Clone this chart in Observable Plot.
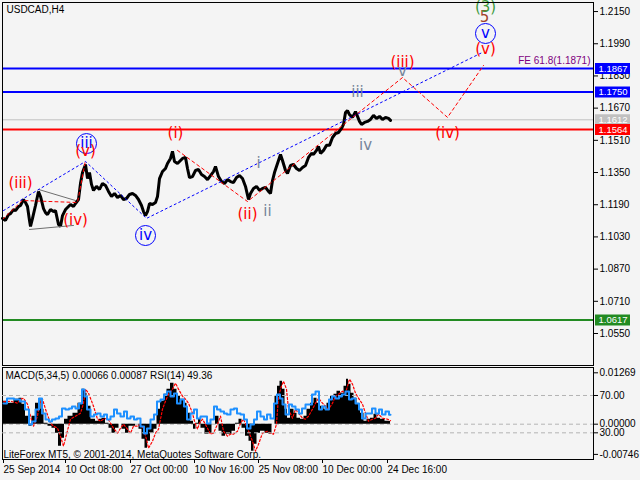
<!DOCTYPE html>
<html><head><meta charset="utf-8">
<script src="https://cdn.jsdelivr.net/npm/d3@7"></script>
<script src="https://cdn.jsdelivr.net/npm/@observablehq/plot@0.6"></script>
<style>
html,body{margin:0;padding:0;background:#f4f4f4;}
#wrap{position:relative;width:640px;height:480px;overflow:hidden;background:#f4f4f4;}
</style></head><body><div id="wrap"></div>
<script>
// ---------- DATA ----------
const symbolTitle = "USDCAD,H4";
const priceTicks = [1.2150,1.1990,1.1830,1.1670,1.1510,1.1350,1.1190,1.1030,1.0870,1.0710,1.0550];
const levelValues = [1.1867, 1.1750, 1.1564, 1.0617];
const levelColors = ["#0000ff", "#0000ff", "#ff0000", "#228b22"];
const currentPrice = 1.1612;
const feLabel = "FE 61.8(1.1871)";

const timeTickBars = [3, 65, 130, 194, 258, 322, 387];
const timeTickLabels = ["25 Sep 2014","10 Oct 08:00","27 Oct 00:00","10 Nov 16:00","25 Nov 08:00","10 Dec 00:00","24 Dec 16:00"];

const priceBar = [2,5,8,10,13,15,18,20,23,25,27,29,30,32,35,38,40,43,45,47,50,53,55,58,60,62,65,68,70,73,75,78,80,82,85,87,89,91,93,96,99,102,105,108,111,114,117,120,123,126,129,132,135,138,141,143,145,147,149,152,155,157,159,162,165,167,170,172,174,177,180,182,185,187,189,192,195,198,201,204,207,210,213,215,218,221,224,227,230,233,236,239,242,245,248,250,253,256,259,262,265,268,270,272,274,277,280,282,285,287,290,293,296,299,302,305,308,311,313,316,318,320,323,326,329,332,335,338,341,343,345,347,349,352,355,357,359,361,364,367,370,373,376,379,382,385,388,390];
const priceClose = [1.1122,1.1112,1.1141,1.1146,1.1166,1.1161,1.1181,1.1186,1.1216,1.1201,1.1181,1.1112,1.1082,1.1122,1.1186,1.1256,1.1231,1.1171,1.1151,1.1141,1.1166,1.1156,1.1161,1.1092,1.1082,1.1136,1.1166,1.1181,1.1191,1.1181,1.1196,1.1216,1.1296,1.1350,1.1390,1.1320,1.1350,1.1291,1.1261,1.1281,1.1266,1.1296,1.1286,1.1256,1.1231,1.1246,1.1226,1.1236,1.1216,1.1221,1.1241,1.1246,1.1236,1.1216,1.1186,1.1156,1.1136,1.1156,1.1196,1.1191,1.1201,1.1231,1.1320,1.1355,1.1370,1.1395,1.1420,1.1455,1.1405,1.1395,1.1410,1.1420,1.1425,1.1370,1.1325,1.1330,1.1360,1.1365,1.1340,1.1330,1.1315,1.1335,1.1355,1.1380,1.1330,1.1305,1.1295,1.1315,1.1305,1.1300,1.1325,1.1335,1.1320,1.1281,1.1216,1.1246,1.1271,1.1281,1.1261,1.1271,1.1276,1.1256,1.1246,1.1310,1.1350,1.1395,1.1440,1.1410,1.1360,1.1345,1.1385,1.1390,1.1370,1.1360,1.1375,1.1385,1.1425,1.1445,1.1440,1.1460,1.1480,1.1445,1.1460,1.1485,1.1485,1.1524,1.1544,1.1549,1.1569,1.1589,1.1648,1.1658,1.1638,1.1624,1.1653,1.1629,1.1604,1.1589,1.1599,1.1604,1.1614,1.1634,1.1619,1.1629,1.1614,1.1624,1.1619,1.1609];

// wave paths (bar, price)
const blueWaveBar = [3, 85, 146, 482];
const blueWavePrice = [1.1161, 1.1405, 1.1122, 1.1947];
const redWaveABar = [2, 22, 77, 85];
const redWaveAPrice = [1.1117, 1.1211, 1.1201, 1.1410];
const redWaveBBar = [177, 247, 402, 447, 483];
const redWaveBPrice = [1.1460, 1.1206, 1.1822, 1.1624, 1.1882];
const triUpperBar = [38, 75], triUpperPrice = [1.1266, 1.1211];
const triLowerBar = [29, 73], triLowerPrice = [1.1067, 1.1087];

// wave labels
const waveText  = ["(iii)","(iv)","(v)","(i)","i","(ii)","ii","iii","iv","(iii)","v","(iv)","(v)","5","(3)"];
const waveBar   = [20, 75, 85, 175, 258, 247, 267, 357, 365, 402, 402, 447, 485, 484, 485];
const wavePrice = [1.1296,1.1112,1.1455,1.1544,1.1395,1.1141,1.1156,1.1748,1.1484,1.1897,1.1852,1.1544,1.1961,1.2121,1.2170];
const waveColor = ["#ff0000","#ff0000","#ff0000","#ff0000","#76859a","#ff0000","#76859a","#76859a","#76859a","#ff0000","#76859a","#ff0000","#ff0000","#a0422d","#3c9a3c"];
const circText  = ["iii","iv","v"];
const circBar   = [86, 145, 485];
const circPrice = [1.1494, 1.1037, 1.2041];

// indicator
const macdTitle = "MACD(5,34,5) 0.00066 0.00087 RSI(14) 49.36";
const credit = "LiteForex MT5, \u00a9 2001-2014, MetaQuotes Software Corp.";
const macdTicks = [0.01269, 0, -0.00746];
const rsiTicks = [70, 30];
const macdBar = [3,10,17,20,23,27,30,33,37,39,42,45,50,53,57,59,63,65,70,75,80,83,85,88,93,97,100,103,107,110,113,117,120,123,127,130,133,137,140,143,146,148,152,155,158,162,165,168,172,175,178,182,185,188,192,194,197,199,202,207,210,213,217,220,223,227,230,233,237,240,243,247,250,252,255,258,262,267,270,273,276,278,281,283,286,288,292,295,298,302,305,308,312,315,318,322,325,328,332,335,338,342,345,347,349,352,355,358,362,365,368,372,375,378,382,387,390];
const macdVal = [.00568,.00519,.00618,.00642,.00494,.00198,-.00049,.00198,.00519,.00618,
.00371,.00025,-.00049,-.00099,-.00222,-.00543,-.00346,.00124,.00198,.00272,
.00519,.00865,.00766,.00445,.00124,.00074,.00124,.00148,.00025,-.00099,
-.00222,-.00099,0,-.00124,-.00222,-.00049,-.00049,0,-.00124,-.00371,
-.00593,-.0042,-.00222,-.00124,.00371,.00568,.00741,.00865,.01013,.00865,
.00692,.00618,.00519,.00272,.00074,-.00124,.00025,.00124,-.00099,-.00247,
-.00222,0,.00198,-.00173,-.00296,-.00247,-.00247,-.00173,.00025,.00124,
-.00099,-.00296,-.0042,-.00667,-.00494,-.00222,-.00173,-.00222,-.00247,0,
.00692,.00939,.01062,.00865,.00371,.00148,.00371,.00272,.00148,.00124,
.00198,.00371,.00519,.00642,.00519,.00445,.00371,.00519,.00692,.00741,
.00815,.00766,.00939,.01112,.00988,.00766,.00642,.00494,.00272,.00074,
.00124,.00148,.00247,.00148,.00124,.00074,.00066];
const macdSignal = [.0055,.00568,.00519,.00618,.00642,.00494,.00198,-.00049,.00198,.00519,
.00618,.00371,.00025,-.00049,-.00099,-.00222,-.00543,-.00346,.00124,.00198,
.00272,.00519,.00865,.00766,.00445,.00124,.00074,.00124,.00148,.00025,
-.00099,-.00222,-.00099,0,-.00124,-.00222,-.00049,-.00049,0,-.00124,
-.00371,-.00593,-.0042,-.00222,-.00124,.00371,.00568,.00741,.00865,.01013,
.00865,.00692,.00618,.00519,.00272,.00074,-.00124,.00025,.00124,-.00099,
-.00247,-.00222,0,.00198,-.00173,-.00296,-.00247,-.00247,-.00173,.00025,
.00124,-.00099,-.00296,-.0042,-.00667,-.00494,-.00222,-.00173,-.00222,-.00247,
0,.00692,.00939,.01062,.00865,.00371,.00148,.00371,.00272,.00148,
.00124,.00198,.00371,.00519,.00642,.00519,.00445,.00371,.00519,.00692,
.00741,.00815,.00766,.00939,.01112,.00988,.00766,.00642,.00494,.00272,
.00074,.00124,.00148,.00247,.00148,.00124,.00087];
const rsiBar = [3,10,17,22,27,30,33,37,40,43,47,50,53,57,60,63,67,70,73,77,80,83,85,88,92,95,98,102,105,108,112,115,118,122,125,128,132,135,138,142,145,148,152,155,158,162,165,168,172,175,178,182,185,188,192,195,198,202,205,208,212,215,218,222,225,228,232,235,238,242,245,248,252,255,258,262,265,268,272,275,278,281,283,287,290,293,297,300,303,307,310,313,317,320,323,327,330,333,337,340,343,347,350,353,357,360,363,367,370,373,377,380,383,387,390];
const rsiVal = [61.4,66.8,65.7,63.6,55.0,38.9,42.1,55.0,66.8,50.7,
44.3,42.1,44.3,45.3,47.5,56.1,55.0,56.1,58.2,56.1,
61.4,76.5,69.0,55.0,47.5,49.7,50.7,47.5,49.7,44.3,
47.5,55.0,50.7,47.5,52.9,45.3,47.5,44.3,45.3,36.8,
29.3,34.6,44.3,49.7,63.6,65.7,71.1,74.3,69.0,72.2,
61.4,65.7,58.2,44.3,50.7,55.0,45.3,47.5,47.5,40.0,
44.3,58.2,55.0,52.9,50.7,49.7,55.0,56.1,50.7,49.7,
44.3,34.6,38.9,44.3,52.9,47.5,44.3,49.7,45.3,61.4,
71.1,66.8,60.4,49.7,60.4,58.2,55.0,50.7,56.1,60.4,
60.4,71.1,74.3,55.0,58.2,55.0,65.7,69.0,66.8,69.0,
71.1,74.3,65.7,66.8,61.4,55.0,45.3,50.7,50.7,56.1,
50.7,55.0,49.7,52.9,49.4];

// ---------- BUILD ----------
const FONT = '"Liberation Sans", Arial, sans-serif';
const WAVEFONT = '"DejaVu Sans", sans-serif';
const st = (top) => ({position:"absolute", left:"0px", top: top + "px", background:"transparent",
  fontFamily: FONT, fontSize:"10px", color:"black", overflow:"visible"});
const pts = (bars, vals) => bars.map((b, i) => ({bar: b, v: vals[i]}));

const price = pts(priceBar, priceClose);
const levels = levelValues.map((v, i) => ({v, c: levelColors[i]}));
const boxes = [
  {v: levelValues[0], c: levelColors[0]},
  {v: levelValues[1], c: levelColors[1]},
  {v: currentPrice, c: "#c0c0c0"},
  {v: levelValues[2], c: levelColors[2]},
  {v: levelValues[3], c: levelColors[3]}
];
const waves = waveText.map((t, i) => ({t, bar: waveBar[i], v: wavePrice[i], c: waveColor[i]}));
const circ = circText.map((t, i) => ({t, bar: circBar[i], v: circPrice[i]}));
const rectSymbol = {draw(ctx) { ctx.rect(-17.5, -5.5, 35, 11); }};

const main = Plot.plot({
  width: 640, height: 366, marginTop: 2, marginBottom: 1, marginLeft: 2, marginRight: 47,
  style: st(0),
  x: {domain: [2, 593], axis: null},
  y: {domain: [1.0391, 1.2195], axis: null},
  marks: [
    Plot.axisY({anchor: "right", ticks: priceTicks, tickFormat: d => d.toFixed(4), tickSize: 4, tickPadding: 2, label: null}),
    Plot.ruleY([currentPrice], {stroke: "#c0c0c0", strokeWidth: 1}),
    Plot.ruleY(levels, {y: "v", stroke: "c", strokeWidth: 2}),
    Plot.line(price, {x: "bar", y: "v", stroke: "black", strokeWidth: 3, strokeLinejoin: "miter"}),
    Plot.line(pts(triUpperBar, triUpperPrice), {x: "bar", y: "v", stroke: "#6e6e6e", strokeWidth: 1}),
    Plot.line(pts(triLowerBar, triLowerPrice), {x: "bar", y: "v", stroke: "#6e6e6e", strokeWidth: 1}),
    Plot.line(pts(blueWaveBar, blueWavePrice), {x: "bar", y: "v", stroke: "#0000ff", strokeWidth: 1, strokeDasharray: "2,3"}),
    Plot.line(pts(redWaveABar, redWaveAPrice), {x: "bar", y: "v", stroke: "#ff0000", strokeWidth: 1, strokeDasharray: "3,3"}),
    Plot.line(pts(redWaveBBar, redWaveBPrice), {x: "bar", y: "v", stroke: "#ff0000", strokeWidth: 1, strokeDasharray: "3,3"}),
    Plot.dot(circ, {x: "bar", y: "v", r: 10, stroke: "#0000ff", strokeWidth: 1, fill: "none"}),
    Plot.text(circ, {x: "bar", y: "v", text: "t", fill: "#0000ff", fontSize: 15, fontFamily: WAVEFONT}),
    Plot.text(waves, {x: "bar", y: "v", text: "t", fill: "c", fontSize: 15, fontFamily: WAVEFONT}),
    Plot.text([feLabel], {y: levelValues[0], frameAnchor: "right", dx: -3, dy: -8, textAnchor: "end", fill: "#800080", fontSize: 10}),
    Plot.frame({stroke: "black"}),
    Plot.dot(boxes, {y: "v", frameAnchor: "right", dx: 19, symbol: rectSymbol, fill: "c", stroke: null}),
    Plot.text(boxes, {y: "v", frameAnchor: "right", dx: 5, text: d => d.v.toFixed(4), textAnchor: "start", fill: "white", fontSize: 9.5}),
    Plot.text([symbolTitle], {frameAnchor: "top-left", dx: 4, dy: 3, lineAnchor: "top", textAnchor: "start", fontSize: 10})
  ]
});

const tickLabel = new Map(timeTickBars.map((b, i) => [b, timeTickLabels[i]]));
const macdChart = Plot.plot({
  width: 640, height: 114, marginTop: 1, marginBottom: 21, marginLeft: 2, marginRight: 47,
  style: st(366),
  x: {domain: [2, 593], axis: null},
  y: {domain: [-0.00872, 0.0140], axis: null},
  marks: [
    Plot.ruleY([0], {stroke: "#b4b4b4", strokeDasharray: "4,3"}),
    Plot.areaY(pts(macdBar, macdVal), {x: "bar", y1: 0, y2: "v", fill: "black", curve: "step"}),
    Plot.line(pts(macdBar, macdSignal), {x: "bar", y: "v", stroke: "#ff0000", strokeWidth: 1.2, strokeDasharray: "2,2"}),
    Plot.axisY({anchor: "right", ticks: macdTicks, tickFormat: d => d.toFixed(5), tickSize: 4, tickPadding: 2, label: null}),
    Plot.axisX({anchor: "bottom", ticks: timeTickBars, tickFormat: d => tickLabel.get(d), tickSize: 4, tickPadding: 2, textAnchor: "start", label: null}),
    Plot.frame({stroke: "black"}),
    Plot.text([macdTitle], {frameAnchor: "top-left", dx: 3, dy: 4, lineAnchor: "top", textAnchor: "start", fontSize: 10}),
    Plot.text([credit], {frameAnchor: "bottom-left", dx: 1, dy: -2, lineAnchor: "bottom", textAnchor: "start", fontSize: 10})
  ]
});

const rsiChart = Plot.plot({
  width: 640, height: 114, marginTop: 1, marginBottom: 21, marginLeft: 2, marginRight: 47,
  style: st(366),
  x: {domain: [2, 593], axis: null},
  y: {domain: [1.4, 100], axis: null},
  marks: [
    Plot.ruleY(rsiTicks, {stroke: "#b4b4b4", strokeDasharray: "4,3"}),
    Plot.line(pts(rsiBar, rsiVal), {x: "bar", y: "v", stroke: "#1e90ff", strokeWidth: 2, curve: "step"}),
    Plot.axisY({anchor: "right", ticks: rsiTicks, tickFormat: d => d.toFixed(2), tickSize: 4, tickPadding: 2, label: null})
  ]
});

const wrap = document.getElementById("wrap");
wrap.appendChild(main);
wrap.appendChild(macdChart);
wrap.appendChild(rsiChart);
</script></body></html>
